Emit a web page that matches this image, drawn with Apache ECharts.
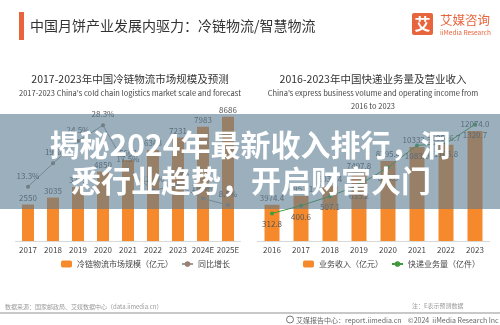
<!DOCTYPE html>
<html><head><meta charset="utf-8">
<script src="https://cdn.jsdelivr.net/npm/echarts@6/dist/echarts.min.js"></script>
<style>html,body{margin:0;padding:0;background:#fff}#c{width:500px;height:325px}</style>
</head><body><div id="c"></div>
<script>
const leftYears = ['2017','2018','2019','2020','2021','2022','2023','2024E','2025E'];
const coldChainScale = [2550, 3035, 3779, 4850, 5663, 6363, 7231, 7983, 8686];
const coldChainGrowth = [13.3, 19.0, 24.5, 28.3, 17.5, 12.4, 13.6, 10.4, 8.8];
const rightYears = ['2016','2017','2018','2019','2020','2021','2022','2023'];
const expressRevenue = [3974.4, 4957.1, 6038.4, 7497.8, 8795.4, 10332.3, 10566.7, 12074.0];
const expressVolume = [312.8, 400.6, 507.1, 635.2, 833.6, 1083.0, 1105.8, 1320.7];

const FONT = '"Noto Sans CJK SC", "Noto Sans", sans-serif';
const ORANGE = '#F5892B';
const BRAND = '#E8643C';

const chart = echarts.init(document.getElementById('c'), null, {renderer: 'canvas'});
const axisCommon = {
  type: 'category',
  axisLine: {lineStyle: {color: '#d9d9d9'}},
  axisTick: {show: false},
  axisLabel: {interval: 0, fontSize: 8, color: '#444', margin: 5, fontFamily: FONT}
};
const hiddenVal = {type: 'value', show: false, splitLine: {show: false}, min: 0};

chart.setOption({
  animation: false,
  textStyle: {fontFamily: FONT},
  grid: [
    {left: 15.5, width: 225, top: 98, height: 143},
    {left: 257.5, width: 232, top: 98, height: 143}
  ],
  xAxis: [
    Object.assign({gridIndex: 0, data: leftYears}, axisCommon),
    Object.assign({gridIndex: 1, data: rightYears}, axisCommon)
  ],
  yAxis: [
    Object.assign({gridIndex: 0, max: 10000}, hiddenVal),
    Object.assign({gridIndex: 0, max: 35}, hiddenVal),
    Object.assign({gridIndex: 1, max: 15700}, hiddenVal),
    Object.assign({gridIndex: 1, max: 1620}, hiddenVal)
  ],
  legend: [
    {left: 56, top: 255, itemWidth: 11, itemHeight: 7, itemGap: 8,
     textStyle: {fontSize: 8, color: '#444'},
     data: ['冷链物流市场规模（亿元）', '同比增长']},
    {left: 298, top: 255, itemWidth: 11, itemHeight: 7, itemGap: 8,
     textStyle: {fontSize: 8, color: '#444'},
     data: ['业务收入（亿元）', '快递业务量（亿件）']}
  ],
  series: [
    {name: '冷链物流市场规模（亿元）', type: 'bar', xAxisIndex: 0, yAxisIndex: 0,
     data: coldChainScale, barWidth: 12, itemStyle: {color: ORANGE},
     label: {show: true, position: 'top', fontSize: 8, color: '#555', distance: 3}},
    {name: '同比增长', type: 'line', xAxisIndex: 0, yAxisIndex: 1,
     data: coldChainGrowth, symbol: 'circle', symbolSize: 4,
     itemStyle: {color: '#9a8070'}, lineStyle: {color: '#9a9a9a', width: 1},
     label: {show: true, position: 'top', fontSize: 8, color: '#555', formatter: '{c}%'}},
    {name: '业务收入（亿元）', type: 'bar', xAxisIndex: 1, yAxisIndex: 2,
     data: expressRevenue, barWidth: 15, itemStyle: {color: ORANGE},
     label: {show: true, position: 'top', fontSize: 8, color: '#555', distance: 3,
             formatter: p => p.value.toFixed(1)}},
    {name: '快递业务量（亿件）', type: 'line', xAxisIndex: 1, yAxisIndex: 3,
     data: expressVolume, symbol: 'circle', symbolSize: 4,
     itemStyle: {color: '#3f9a3f'}, lineStyle: {color: '#3f9a3f', width: 1},
     label: {show: true, position: 'bottom', fontSize: 8, color: '#555',
             formatter: p => p.value.toFixed(1)}}
  ],
  graphic: [
    {type: 'rect', shape: {x: 19, y: 12, width: 5, height: 28}, style: {fill: BRAND}},
    {type: 'text', x: 30, y: 26, style: {text: '中国月饼产业发展内驱力：冷链物流/智慧物流', fill: '#333', fontSize: 14, fontFamily: FONT, verticalAlign: 'middle'}},
    {type: 'rect', shape: {x: 412, y: 13, width: 21, height: 22, r: 2}, style: {fill: BRAND}},
    {type: 'text', x: 422.5, y: 24, style: {text: '艾', fill: '#fff', fontSize: 16, fontWeight: 'bold', fontFamily: FONT, align: 'center', verticalAlign: 'middle'}},
    {type: 'text', x: 440, y: 20, style: {text: '艾媒咨询', fill: BRAND, fontSize: 12.5, fontFamily: FONT, verticalAlign: 'middle'}},
    {type: 'text', x: 440, y: 33, style: {text: 'iiMedia Research', fill: BRAND, fontSize: 6.5, fontFamily: FONT, verticalAlign: 'middle'}},
    {type: 'text', x: 130, y: 79, style: {text: '2017-2023年中国冷链物流市场规模及预测', fill: '#333', fontSize: 10.5, fontFamily: FONT, align: 'center', verticalAlign: 'middle'}},
    {type: 'text', x: 130, y: 93, style: {text: "2017-2023 China's cold chain logistics market scale and forecast", fill: '#444', fontSize: 7.5, fontFamily: FONT, align: 'center', verticalAlign: 'middle'}},
    {type: 'text', x: 373, y: 79, style: {text: '2016-2023年中国快递业务量及营业收入', fill: '#333', fontSize: 10.5, fontFamily: FONT, align: 'center', verticalAlign: 'middle'}},
    {type: 'text', x: 373, y: 93, style: {text: "China's express business volume and operating income from", fill: '#444', fontSize: 7.5, fontFamily: FONT, align: 'center', verticalAlign: 'middle'}},
    {type: 'text', x: 373, y: 106, style: {text: '2016 to 2023', fill: '#444', fontSize: 7.5, fontFamily: FONT, align: 'center', verticalAlign: 'middle'}},
    {type: 'text', x: 5, y: 307, style: {text: '数据来源：国家邮政局、艾媒数据中心（data.iimedia.cn）', fill: '#999', fontSize: 6, fontFamily: FONT, verticalAlign: 'middle'}},
    {type: 'text', x: 412, y: 306, style: {text: '注：E表示预测数据', fill: '#999', fontSize: 6, fontFamily: FONT, verticalAlign: 'middle'}},
    {type: 'rect', shape: {x: 0, y: 312, width: 500, height: 2}, style: {fill: '#c8c8c8'}},
    {type: 'circle', shape: {cx: 290, cy: 319.5, r: 3.5}, style: {fill: 'none', stroke: '#777', lineWidth: 1}},
    {type: 'text', x: 296, y: 320, style: {text: '艾媒报告中心：report.iimedia.cn    ©2024  iiMedia Research Inc', fill: '#666', fontSize: 7, fontFamily: FONT, verticalAlign: 'middle'}},
    {type: 'rect', z: 100, shape: {x: 0, y: 114, width: 500, height: 95}, style: {fill: 'rgba(88,122,143,0.6)'}},
    {type: 'text', z: 101, x: 250, y: 145, style: {text: '揭秘2024年最新收入排行，洞', fill: '#fff', fontSize: 30, fontWeight: 'bold', fontFamily: FONT, align: 'center', verticalAlign: 'middle', shadowBlur: 3, shadowColor: 'rgba(0,0,0,0.25)'}},
    {type: 'text', z: 101, x: 251, y: 181, style: {text: '悉行业趋势，开启财富大门', fill: '#fff', fontSize: 30, fontWeight: 'bold', fontFamily: FONT, align: 'center', verticalAlign: 'middle', shadowBlur: 3, shadowColor: 'rgba(0,0,0,0.25)'}}
  ]
});
</script></body></html>
